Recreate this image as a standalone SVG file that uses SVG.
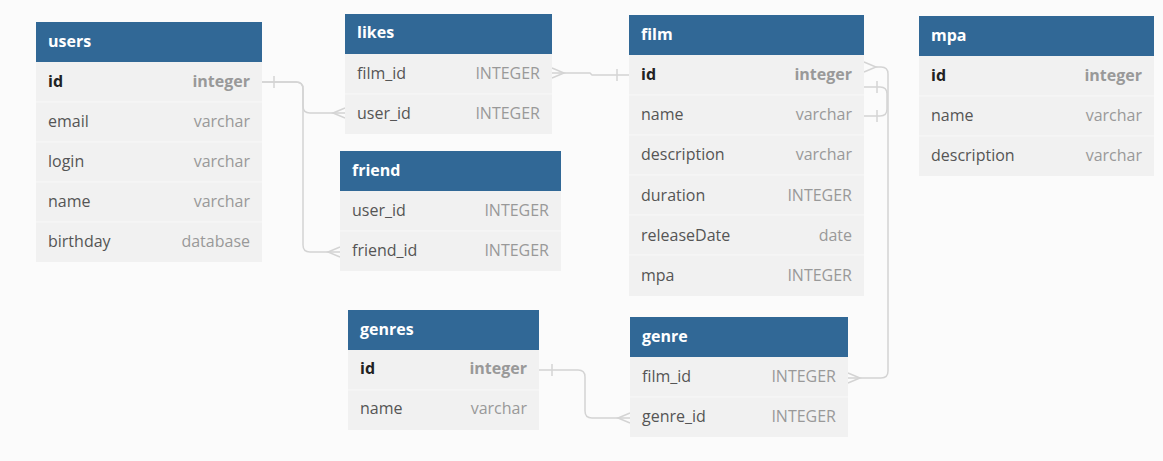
<svg xmlns="http://www.w3.org/2000/svg" width="1163" height="461" viewBox="0 0 1163 461">
<style>
.bg{fill:#fbfbfb}
.hd{fill:#316896}
.row{fill:#f1f1f1}
.sep{stroke:#f8f8f8;stroke-width:1}
.title{font-family:"Open Sans","Noto Sans",sans-serif;font-size:16px;font-weight:bold;fill:#ffffff}
.fn{font-family:"Open Sans","Noto Sans",sans-serif;font-size:16px;fill:#555555}
.fk{font-family:"Open Sans","Noto Sans",sans-serif;font-size:16px;fill:#222222;font-weight:bold}
.ty{font-family:"Open Sans","Noto Sans",sans-serif;font-size:16px;fill:#999999;text-anchor:end}
.tk{font-family:"Open Sans","Noto Sans",sans-serif;font-size:16px;fill:#999999;font-weight:bold;text-anchor:end}
.ln{fill:none;stroke:#d4d4d4;stroke-width:1.5}
</style>
<rect class="bg" x="0" y="0" width="1163" height="461"/>
<g id="connectors">
<path class="ln" d="M262,82 H296 Q303,82 303,89 V106 Q303,113 310,113 H345"/>
<path class="ln" d="M274,76 V88"/>
<path class="ln" d="M345,108 L333,113 L345,118"/>
<path class="ln" d="M262,82 H296 Q303,82 303,89 V245 Q303,252 310,252 H340"/>
<path class="ln" d="M340,247 L328,252 L340,257"/>
<path class="ln" d="M552,73 H590 L592,75 H629"/>
<path class="ln" d="M552,68 L564,73 L552,78"/>
<path class="ln" d="M617,69 V81"/>
<path class="ln" d="M864,62 L876,67 L864,72"/>
<path class="ln" d="M876,67 H881 Q888,67 888,74 V371 Q888,378 881,378 H848"/>
<path class="ln" d="M848,373 L860,378 L848,383"/>
<path class="ln" d="M864,87 H880 Q887,87 887,94 V109 Q887,116 880,116 H864"/>
<path class="ln" d="M877,81 V93"/>
<path class="ln" d="M877,110 V122"/>
<path class="ln" d="M539,370 H578 Q585,370 585,377 V411 Q585,418 592,418 H630"/>
<path class="ln" d="M552,364 V376"/>
<path class="ln" d="M630,413 L618,418 L630,423"/>
</g>
<g id="users">
<rect class="hd" x="36" y="22" width="226" height="40"/>
<rect class="row" x="36" y="62" width="226" height="200"/>
<path class="sep" d="M36,102 H262 M36,142 H262 M36,182 H262 M36,222 H262"/>
<text class="title" x="48" y="47">users</text>
<text class="fk" x="48" y="87">id</text><text class="tk" x="250" y="87">integer</text>
<text class="fn" x="48" y="127">email</text><text class="ty" x="250" y="127">varchar</text>
<text class="fn" x="48" y="167">login</text><text class="ty" x="250" y="167">varchar</text>
<text class="fn" x="48" y="207">name</text><text class="ty" x="250" y="207">varchar</text>
<text class="fn" x="48" y="247">birthday</text><text class="ty" x="250" y="247">database</text>
</g>
<g id="likes">
<rect class="hd" x="345" y="14" width="207" height="40"/>
<rect class="row" x="345" y="54" width="207" height="80"/>
<path class="sep" d="M345,94 H552"/>
<text class="title" x="357" y="38">likes</text>
<text class="fn" x="357" y="79">film_id</text><text class="ty" x="540" y="79">INTEGER</text>
<text class="fn" x="357" y="119">user_id</text><text class="ty" x="540" y="119">INTEGER</text>
</g>
<g id="friend">
<rect class="hd" x="340" y="151" width="221" height="40"/>
<rect class="row" x="340" y="191" width="221" height="80"/>
<path class="sep" d="M340,231 H561"/>
<text class="title" x="352" y="176">friend</text>
<text class="fn" x="352" y="216">user_id</text><text class="ty" x="549" y="216">INTEGER</text>
<text class="fn" x="352" y="256">friend_id</text><text class="ty" x="549" y="256">INTEGER</text>
</g>
<g id="film">
<rect class="hd" x="629" y="15" width="235" height="40"/>
<rect class="row" x="629" y="55" width="235" height="241"/>
<path class="sep" d="M629,95 H864 M629,135 H864 M629,175 H864 M629,215 H864 M629,255 H864"/>
<text class="title" x="641" y="40">film</text>
<text class="fk" x="641" y="80">id</text><text class="tk" x="852" y="80">integer</text>
<text class="fn" x="641" y="120">name</text><text class="ty" x="852" y="120">varchar</text>
<text class="fn" x="641" y="160">description</text><text class="ty" x="852" y="160">varchar</text>
<text class="fn" x="641" y="201">duration</text><text class="ty" x="852" y="201">INTEGER</text>
<text class="fn" x="641" y="241">releaseDate</text><text class="ty" x="852" y="241">date</text>
<text class="fn" x="641" y="281">mpa</text><text class="ty" x="852" y="281">INTEGER</text>
</g>
<g id="mpa">
<rect class="hd" x="919" y="16" width="235" height="40"/>
<rect class="row" x="919" y="56" width="235" height="120"/>
<path class="sep" d="M919,96 H1154 M919,136 H1154"/>
<text class="title" x="931" y="41">mpa</text>
<text class="fk" x="931" y="81">id</text><text class="tk" x="1142" y="81">integer</text>
<text class="fn" x="931" y="121">name</text><text class="ty" x="1142" y="121">varchar</text>
<text class="fn" x="931" y="161">description</text><text class="ty" x="1142" y="161">varchar</text>
</g>
<g id="genres">
<rect class="hd" x="348" y="310" width="191" height="40"/>
<rect class="row" x="348" y="350" width="191" height="80"/>
<path class="sep" d="M348,390 H539"/>
<text class="title" x="360" y="335">genres</text>
<text class="fk" x="360" y="374">id</text><text class="tk" x="527" y="374">integer</text>
<text class="fn" x="360" y="414">name</text><text class="ty" x="527" y="414">varchar</text>
</g>
<g id="genre">
<rect class="hd" x="630" y="317" width="218" height="40"/>
<rect class="row" x="630" y="357" width="218" height="80"/>
<path class="sep" d="M630,397 H848"/>
<text class="title" x="642" y="342">genre</text>
<text class="fn" x="642" y="382">film_id</text><text class="ty" x="836" y="382">INTEGER</text>
<text class="fn" x="642" y="422">genre_id</text><text class="ty" x="836" y="422">INTEGER</text>
</g>
</svg>
